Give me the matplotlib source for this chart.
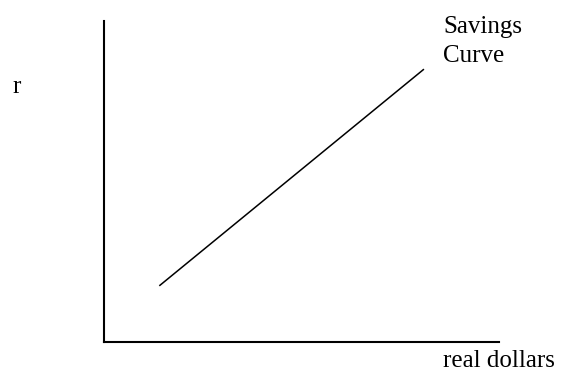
import matplotlib
matplotlib.use("Agg")
import matplotlib.pyplot as plt

# savings curve, arbitrary units (real dollars vs r)
real_dollars = [1.4, 8.1]
r_values = [1.75, 8.5]

curve_label = ["Savings", "Curve"]
x_label = "real dollars"
y_label = "r"

plt.rcParams['font.family'] = ['Liberation Serif', 'DejaVu Serif']

W, H = 565, 371
fig = plt.figure(figsize=(W / 100, H / 100), dpi=100)
ax = fig.add_axes([104 / W, (H - 342) / H, (499 - 104) / W, (342 - 21) / H])

ax.plot(real_dollars, r_values, color='black', linewidth=1.1, solid_capstyle='butt')
ax.set_xlim(0, 10)
ax.set_ylim(0, 10)

for side in ['top', 'right']:
    ax.spines[side].set_visible(False)
for side in ['left', 'bottom']:
    ax.spines[side].set_linewidth(1.5)
ax.set_xticks([])
ax.set_yticks([])

fs = 18
fig.text(443 / W, 1 - 33 / H, curve_label[0], fontsize=fs, ha='left', va='baseline')
fig.text(443 / W, 1 - 62 / H, curve_label[1], fontsize=fs, ha='left', va='baseline')
fig.text(443 / W, 1 - 367 / H, x_label, fontsize=fs, ha='left', va='baseline')
fig.text(12 / W, 1 - 93 / H, y_label, fontsize=fs, ha='left', va='baseline')

fig.savefig("out.png", dpi=100)
